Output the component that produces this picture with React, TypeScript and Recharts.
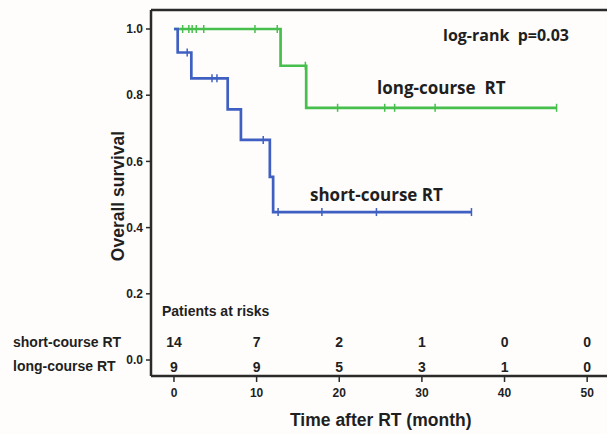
import React from 'react';
import {
  ComposedChart, Line, Scatter, XAxis, YAxis, ReferenceLine,
} from 'recharts';

// survival curves: t = month, s = survival, c = censored mark
const longCourse = [
  { t: 0, s: 1 },
  { t: 1.05, s: 1, c: true },
  { t: 1.8, s: 1, c: true },
  { t: 2.2, s: 1, c: true },
  { t: 2.7, s: 1, c: true },
  { t: 3.6, s: 1, c: true },
  { t: 9.8, s: 1, c: true },
  { t: 12.5, s: 1, c: true },
  { t: 12.9, s: 0.889 },
  { t: 15.9, s: 0.889, c: true },
  { t: 16.0, s: 0.762 },
  { t: 19.8, s: 0.762, c: true },
  { t: 25.5, s: 0.762, c: true },
  { t: 26.7, s: 0.762, c: true },
  { t: 31.6, s: 0.762, c: true },
  { t: 46.3, s: 0.762, c: true },
];

const shortCourse = [
  { t: 0, s: 1 },
  { t: 0.45, s: 0.929 },
  { t: 1.6, s: 0.929, c: true },
  { t: 2.1, s: 0.851 },
  { t: 4.6, s: 0.851, c: true },
  { t: 5.2, s: 0.851, c: true },
  { t: 6.5, s: 0.757 },
  { t: 8.1, s: 0.665 },
  { t: 10.8, s: 0.665, c: true },
  { t: 11.6, s: 0.553 },
  { t: 12.0, s: 0.447 },
  { t: 12.6, s: 0.447, c: true },
  { t: 17.9, s: 0.447, c: true },
  { t: 24.5, s: 0.447, c: true },
  { t: 36.0, s: 0.447, c: true },
];

// patients at risk table
const riskTimes = [0, 10, 20, 30, 40, 50];
const shortRisk = [14, 7, 2, 1, 0, 0];
const longRisk = [9, 9, 5, 3, 1, 0];

const xTicks = [0, 10, 20, 30, 40, 50];
const yTicks = [0, 0.2, 0.4, 0.6, 0.8, 1.0];

const X_MIN = -2.78;
const X_MAX = 52.4;
const Y_MIN = -0.0483;
const Y_MAX = 1.0574;

const GREEN = '#47bf4c';
const BLUE = '#3f60c2';
const INK = '#1f1f1f';
const AXIS = '#2a2a2a';

const SHORT_ROW_Y = 0.054;
const LONG_ROW_Y = -0.021;

const shortRows = riskTimes.map((t, i) => ({ t, y: SHORT_ROW_Y, n: shortRisk[i] }));
const longRows = riskTimes.map((t, i) => ({ t, y: LONG_ROW_Y, n: longRisk[i] }));

const censorDot = (color: string) => (props: any) => {
  const { cx, cy, payload, index } = props;
  if (!payload?.c) return <g key={`d${index}`} />;
  return <line key={`d${index}`} x1={cx} x2={cx} y1={cy - 4} y2={cy + 4} stroke={color} strokeWidth={1.5} />;
};

const riskText = (props: any) => (
  <text
    x={props.cx}
    y={props.cy}
    textAnchor="middle"
    dominantBaseline="central"
    fontFamily="'Liberation Sans', Arial, sans-serif"
    fontWeight={700}
    fontSize={14}
    fill={INK}
  >
    {props.payload.n}
  </text>
);

const sans = "'Liberation Sans', Arial, sans-serif";
const open = "'Open Sans', 'Liberation Sans', sans-serif";

const Txt = ({ left, cy, size, font, children }: any) => (
  <div
    style={{
      position: 'absolute', left, top: cy - size * 0.5, fontSize: size, lineHeight: `${size}px`,
      fontFamily: font, fontWeight: 700, color: INK, whiteSpace: 'pre',
    }}
  >
    {children}
  </div>
);

export default function App() {
  const tickStyle = { fontSize: 12, fontWeight: 700, fill: INK, fontFamily: sans };
  return (
    <div style={{ position: 'absolute', left: 0, top: 0, width: 607, height: 434, background: '#fefdfb', overflow: 'hidden' }}>
      <ComposedChart width={607} height={434} margin={{ top: 10, right: 0, bottom: 28, left: 111 }}>
        <XAxis
          type="number"
          dataKey="t"
          domain={[X_MIN, X_MAX]}
          ticks={xTicks}
          allowDataOverflow
          height={30}
          axisLine={{ stroke: AXIS, strokeWidth: 2.5 }}
          tickLine={{ stroke: AXIS, strokeWidth: 1.5 }}
          tickSize={6}
          tickMargin={6}
          tick={tickStyle}
        />
        <YAxis
          type="number"
          domain={[Y_MIN, Y_MAX]}
          ticks={yTicks}
          allowDataOverflow
          width={40}
          axisLine={{ stroke: AXIS, strokeWidth: 2.5 }}
          tickLine={{ stroke: AXIS, strokeWidth: 1.5 }}
          tickSize={5}
          tickMargin={3}
          tick={tickStyle}
          tickFormatter={(v: number) => v.toFixed(1)}
        />
        <ReferenceLine y={Y_MAX} stroke={AXIS} strokeWidth={2.5} />
        <Line
          data={longCourse}
          dataKey="s"
          type="stepAfter"
          stroke={GREEN}
          strokeWidth={2.7}
          dot={censorDot(GREEN)}
          activeDot={false}
          isAnimationActive={false}
        />
        <Line
          data={shortCourse}
          dataKey="s"
          type="stepAfter"
          stroke={BLUE}
          strokeWidth={2.7}
          dot={censorDot(BLUE)}
          activeDot={false}
          isAnimationActive={false}
        />
        <Scatter data={shortRows} dataKey="y" shape={riskText} isAnimationActive={false} />
        <Scatter data={longRows} dataKey="y" shape={riskText} isAnimationActive={false} />
      </ComposedChart>

      <Txt left={443} cy={35} size={16} font={open}>log-rank  p=0.03</Txt>
      <Txt left={377} cy={87} size={17} font={open}>long-course  RT</Txt>
      <Txt left={310} cy={194} size={17} font={open}>short-course RT</Txt>
      <Txt left={162} cy={311} size={14} font={sans}>Patients at risks</Txt>
      <Txt left={13} cy={342} size={14} font={sans}>short-course RT</Txt>
      <Txt left={13} cy={366} size={14} font={sans}>long-course RT</Txt>
      <Txt left={290} cy={421} size={17.5} font={sans}>Time after RT (month)</Txt>
      <div
        style={{
          position: 'absolute', left: 118, top: 196, transform: 'translate(-50%, -50%) rotate(-90deg)',
          fontSize: 17.5, lineHeight: '18px', fontFamily: sans, fontWeight: 700, color: INK, whiteSpace: 'nowrap',
        }}
      >
        Overall survival
      </div>
    </div>
  );
}
